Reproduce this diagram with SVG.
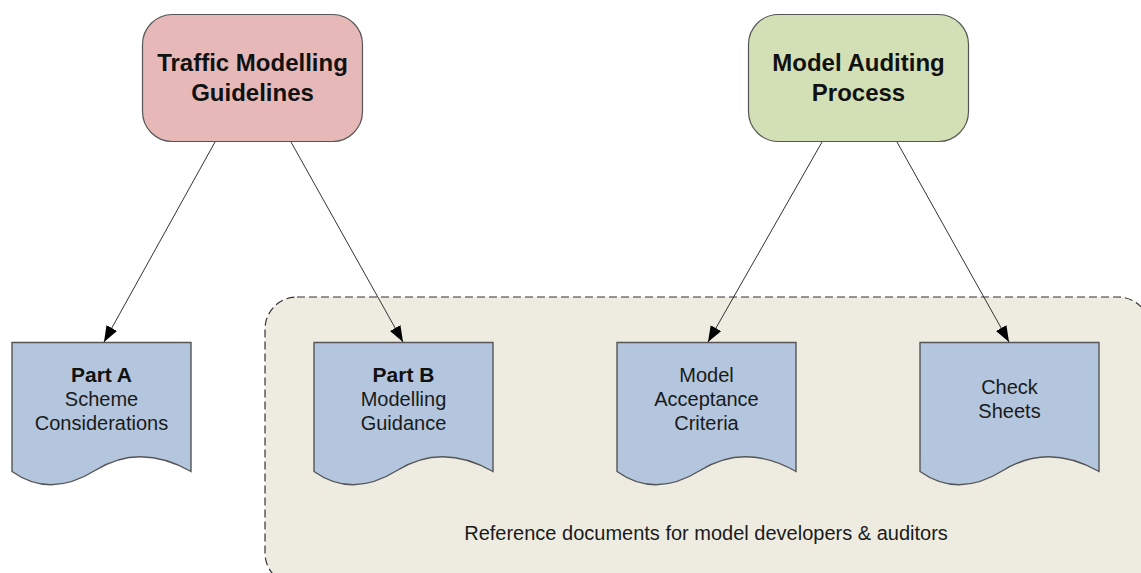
<svg xmlns="http://www.w3.org/2000/svg" width="1141" height="573" viewBox="0 0 1141 573">
  <style>
    .title { font-family: "Liberation Sans", Arial, sans-serif; font-size: 24px; font-weight: bold; fill: #111; text-anchor: middle; }
    .doc-head { font-family: "Liberation Sans", Arial, sans-serif; font-size: 21px; font-weight: bold; fill: #111; text-anchor: middle; }
    .doc-text { font-family: "Liberation Sans", Arial, sans-serif; font-size: 20px; fill: #1a1a1a; text-anchor: middle; }
    .note { font-family: "Liberation Sans", Arial, sans-serif; font-size: 20px; fill: #1a1a1a; text-anchor: middle; }
    .box { stroke: #555; stroke-width: 1.2; }
    .doc { fill: #B3C6DD; stroke: #555; stroke-width: 1.4; }
    .link { stroke: #333; stroke-width: 1; fill: none; marker-end: url(#arrow); }
  </style>
  <defs>
    <marker id="arrow" viewBox="0 0 16 12" refX="16" refY="6" markerWidth="16" markerHeight="12" markerUnits="userSpaceOnUse" orient="auto">
      <path d="M0,0 L16,6 L0,12 Z" fill="#000"/>
    </marker>
    <!-- wavy-bottom document shape, 179 wide, origin at top-left -->
    <path id="docShape" d="M0,0 H179 V129 Q128,100 83,128 T0,129 Z"/>
  </defs>

  <rect width="1141" height="573" fill="#fff"/>

  <!-- shared container for the reference documents -->
  <g id="container">
    <rect x="265" y="297" width="885" height="288" rx="32" fill="#EEECE1" stroke="#333" stroke-width="1.2" stroke-dasharray="8,4"/>
    <text class="note" x="706" y="540">Reference documents for model developers &amp; auditors</text>
  </g>

  <g id="traffic-guidelines">
    <rect class="box" x="142.5" y="14.5" width="220" height="127" rx="30" fill="#E6B9B8"/>
    <text class="title" x="252.5" y="71">Traffic Modelling</text>
    <text class="title" x="252.5" y="101">Guidelines</text>
  </g>

  <g id="model-auditing">
    <rect class="box" x="748.5" y="14.5" width="220" height="127" rx="30" fill="#D3E0B6"/>
    <text class="title" x="858.5" y="71">Model Auditing</text>
    <text class="title" x="858.5" y="101">Process</text>
  </g>

  <g id="part-a">
    <use href="#docShape" class="doc" x="12" y="342.5"/>
    <text class="doc-head" x="101.5" y="382">Part A</text>
    <text class="doc-text" x="101.5" y="406">Scheme</text>
    <text class="doc-text" x="101.5" y="430">Considerations</text>
  </g>

  <g id="part-b">
    <use href="#docShape" class="doc" x="314" y="342.5"/>
    <text class="doc-head" x="403.5" y="382">Part B</text>
    <text class="doc-text" x="403.5" y="406">Modelling</text>
    <text class="doc-text" x="403.5" y="430">Guidance</text>
  </g>

  <g id="acceptance-criteria">
    <use href="#docShape" class="doc" x="617" y="342.5"/>
    <text class="doc-text" x="706.5" y="382">Model</text>
    <text class="doc-text" x="706.5" y="406">Acceptance</text>
    <text class="doc-text" x="706.5" y="430">Criteria</text>
  </g>

  <g id="check-sheets">
    <use href="#docShape" class="doc" x="920" y="342.5"/>
    <text class="doc-text" x="1009.5" y="394">Check</text>
    <text class="doc-text" x="1009.5" y="418">Sheets</text>
  </g>

  <g id="connectors">
    <line class="link" x1="215" y1="142" x2="104" y2="342"/>
    <line class="link" x1="291" y1="142" x2="403" y2="342"/>
    <line class="link" x1="822" y1="142" x2="708" y2="342"/>
    <line class="link" x1="897" y1="142" x2="1009" y2="342"/>
  </g>
</svg>
